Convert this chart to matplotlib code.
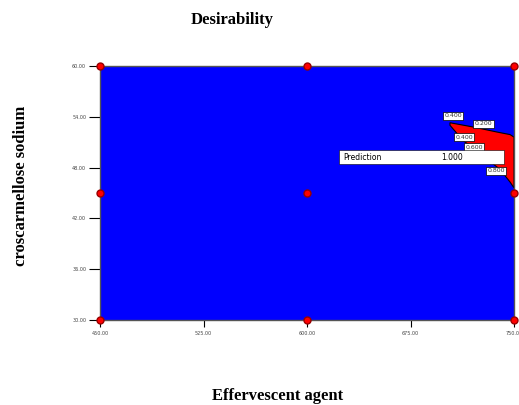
import matplotlib.pyplot as plt
import numpy as np

# design points (Effervescent agent, croscarmellose sodium)
design_x = [450, 600, 750, 450, 600, 750, 450, 600, 750]
design_y = [60, 60, 60, 45, 45, 45, 30, 30, 30]

# red region boundary (desirability > 0)
region_x = [703.6, 720.3, 737.7, 747.1, 750.0, 750.0, 747.1, 739.8, 730.4, 723.2, 713.0, 703.6]
region_y = [53.3, 52.8, 52.2, 51.9, 51.6, 45.6, 46.3, 47.8, 49.0, 50.0, 51.2, 53.0]

# contour labels
label_text = ['0.400', '0.200', '0.400', '0.600', '0.800']
label_x = [705.8, 728.0, 713.8, 721.0, 737.0]
label_y = [54.1, 53.2, 51.6, 50.4, 47.6]

xticks = [450, 525, 600, 675, 750]
yticks = [30, 36, 42, 48, 54, 60]

fig = plt.figure(figsize=(5.19, 4.05), dpi=100)
ax = fig.add_axes([0.1927, 0.2099, 0.7977, 0.6271])
ax.set_facecolor('#0000ff')
ax.set_xlim(450, 750)
ax.set_ylim(30, 60)

ax.fill(region_x, region_y, color='#ff0000', edgecolor='black', linewidth=0.8, zorder=2)

for t, lx, ly in zip(label_text, label_x, label_y):
    ax.text(lx, ly, t, fontsize=4.5, ha='center', va='center', zorder=4, color='#333333',
            bbox=dict(boxstyle='square,pad=0.25', fc='white', ec='black', lw=0.5))

# prediction flag
ax.add_patch(plt.Rectangle((623, 48.4), 120, 1.7, fc='white', ec='black', lw=0.4, zorder=5))
ax.text(626, 49.25, 'Prediction', fontsize=5.5, ha='left', va='center', zorder=6)
ax.text(713, 49.25, '1.000', fontsize=5.5, ha='right', va='center', zorder=6)

ax.plot(design_x, design_y, 'o', color='#ff0000', markeredgecolor='#990000',
        markersize=5, clip_on=False, zorder=7)

ax.set_xticks(xticks)
ax.set_yticks(yticks)
ax.set_xticklabels(['%.2f' % v for v in xticks], fontsize=3.5, color='#444444')
ax.set_yticklabels(['%.2f' % v for v in yticks], fontsize=3.5, color='#444444')
ax.tick_params(axis='y', length=8, width=0.8, direction='out', pad=2)
ax.tick_params(axis='x', length=5, width=0.8, direction='out', pad=3)
for s in ax.spines.values():
    s.set_linewidth(1.0)
    s.set_color('#555555')

fig.text(0.447, 0.95, 'Desirability', fontsize=12, fontweight='bold',
         family='Liberation Serif', ha='center', va='center')
fig.text(0.534, 0.022, 'Effervescent agent', fontsize=12, fontweight='bold',
         family='Liberation Serif', ha='center', va='center')
fig.text(0.04, 0.54, 'croscarmellose sodium', fontsize=12, fontweight='bold',
         family='Liberation Serif', ha='center', va='center', rotation=90)

plt.savefig('out.png', dpi=100)
